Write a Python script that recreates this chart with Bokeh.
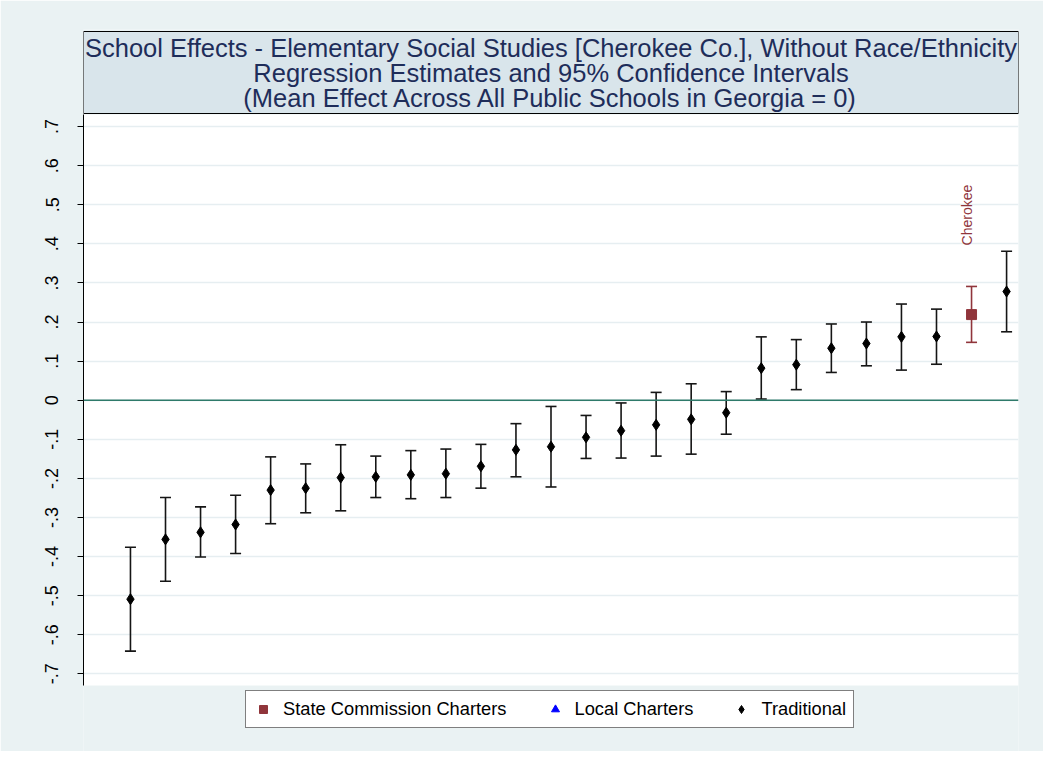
import math
from bokeh.plotting import figure
from bokeh.models import (Range1d, FixedTicker, Whisker, TeeHead, ColumnDataSource,
                          Span, Legend, LegendItem, Label)
from bokeh.core.properties import value
from bokeh.embed import file_html
from bokeh.resources import INLINE

# ---------------- data ----------------
RANK = list(range(1, 27))
ESTIMATE = [-0.509, -0.356, -0.338, -0.318, -0.230, -0.225, -0.198, -0.196, -0.191, -0.188,
            -0.169, -0.127, -0.119, -0.095, -0.078, -0.063, -0.049, -0.032, 0.082, 0.091,
            0.133, 0.145, 0.162, 0.163, 0.219, 0.278]
LOWER = [-0.642, -0.463, -0.401, -0.392, -0.316, -0.288, -0.283, -0.249, -0.252, -0.249,
         -0.225, -0.196, -0.222, -0.149, -0.148, -0.143, -0.138, -0.087, 0.003, 0.027,
         0.071, 0.088, 0.077, 0.092, 0.148, 0.175]
UPPER = [-0.376, -0.249, -0.273, -0.243, -0.145, -0.163, -0.114, -0.143, -0.129, -0.125,
         -0.113, -0.060, -0.016, -0.039, -0.007, 0.020, 0.042, 0.022, 0.162, 0.155,
         0.195, 0.200, 0.246, 0.233, 0.291, 0.381]
SCHOOL_TYPE = ["Traditional"] * 24 + ["State Commission Charters", "Traditional"]
SCHOOL_LABEL = [""] * 24 + ["Cherokee", ""]
LABEL_Y = 0.396

TICK_VALUES = [-0.7, -0.6, -0.5, -0.4, -0.3, -0.2, -0.1, 0.0, 0.1, 0.2, 0.3, 0.4, 0.5, 0.6, 0.7]
TICK_LABELS = ["-.7", "-.6", "-.5", "-.4", "-.3", "-.2", "-.1", "0", ".1", ".2", ".3", ".4", ".5", ".6", ".7"]

LEGEND_LABELS = ["State Commission Charters", "Local Charters", "Traditional"]
TITLE_LINES = ["School Effects - Elementary Social Studies [Cherokee Co.], Without Race/Ethnicity",
               "Regression Estimates and 95% Confidence Intervals",
               "(Mean Effect Across All Public Schools in Georgia = 0)"]

# ---------------- styles / layout ----------------
FONT = "Liberation Sans"
BG = "#EAF2F3"
TITLE_FILL = "#D9E5EB"
TITLE_COLOR = "#1E2D5A"
RED = "#90353B"
BAR_COLOR = "#151515"
ZERO_COLOR = "#2F7A6A"

PX_PER_UNIT = 390.9
ZERO_PX = 399.7          # vertical pixel of the zero line
FRAME_TOP_PX = 29
FRAME_BOTTOM_PX = 751

def yv(px):
    return (ZERO_PX - px) / PX_PER_UNIT

X0, X1 = -0.34, 26.34
Y_PLOT_BOTTOM, Y_PLOT_TOP = yv(685), yv(114)
Y_TITLE_BOTTOM, Y_TITLE_TOP = yv(113), yv(31)

p = figure(frame_width=935, frame_height=FRAME_BOTTOM_PX - FRAME_TOP_PX,
           output_backend="svg", toolbar_location=None,
           x_range=Range1d(X0, X1), y_range=Range1d(yv(FRAME_BOTTOM_PX), yv(FRAME_TOP_PX)),
           x_axis_location=None,
           min_border_left=83, min_border_right=25, min_border_top=FRAME_TOP_PX,
           min_border_bottom=0,
           background_fill_color=BG, border_fill_color=BG, outline_line_color=None)

p.xgrid.visible = False

# white plotting region
p.quad(left=[X0], right=[X1], bottom=[Y_PLOT_BOTTOM], top=[Y_PLOT_TOP],
       fill_color="white", line_color=None, level="image")

yax = p.yaxis[0]
yax.ticker = FixedTicker(ticks=TICK_VALUES)
yax.major_label_overrides = {v: l for v, l in zip(TICK_VALUES, TICK_LABELS)}
yax.bounds = (Y_PLOT_BOTTOM, Y_PLOT_TOP)
yax.major_label_orientation = "vertical"
yax.major_label_text_font = FONT
yax.major_label_text_font_size = "18px"
yax.major_label_text_color = "black"
yax.major_label_standoff = 19
yax.major_tick_out = 6
yax.major_tick_in = 0
yax.minor_tick_out = 0
yax.minor_tick_in = 0
yax.axis_line_color = "black"
yax.major_tick_line_color = "black"

p.ygrid.ticker = FixedTicker(ticks=TICK_VALUES)
p.ygrid.grid_line_color = "#E6EEF1"
p.ygrid.grid_line_width = 1.5

p.add_layout(Span(location=0, dimension="width", line_color=ZERO_COLOR, line_width=1.6))

# error bars
for kind, col in [("Traditional", BAR_COLOR), ("State Commission Charters", RED)]:
    idx = [i for i, t in enumerate(SCHOOL_TYPE) if t == kind]
    src = ColumnDataSource(dict(x=[RANK[i] for i in idx], lo=[LOWER[i] for i in idx],
                                hi=[UPPER[i] for i in idx]))
    w = Whisker(source=src, base="x", lower="lo", upper="hi", dimension="height",
                line_color=col, line_width=1.6,
                upper_head=TeeHead(size=11, line_color=col, line_width=1.6),
                lower_head=TeeHead(size=11, line_color=col, line_width=1.6))
    p.add_layout(w)

def pts(kind):
    idx = [i for i, t in enumerate(SCHOOL_TYPE) if t == kind]
    xs = [RANK[i] for i in idx]
    ys = [ESTIMATE[i] for i in idx]
    if not xs:  # no schools of this type: hidden placeholder so the legend still draws it
        xs, ys = [float("nan")], [float("nan")]
    return dict(x=xs, y=ys)

r_sc = p.scatter(source=ColumnDataSource(pts("State Commission Charters")), x="x", y="y",
                 marker="square", size=10, fill_color=RED, line_color=RED)
r_lc = p.scatter(source=ColumnDataSource(pts("Local Charters")), x="x", y="y",
                 marker="triangle", size=7, fill_color="blue", line_color="blue")
r_tr = p.scatter(source=ColumnDataSource(pts("Traditional")), x="x", y="y",
                 marker="diamond", size=11, fill_color="black", line_color="black")

# school label
lab_idx = [i for i, s in enumerate(SCHOOL_LABEL) if s]
p.text(x=[RANK[i] for i in lab_idx], y=[LABEL_Y] * len(lab_idx),
       text=[SCHOOL_LABEL[i] for i in lab_idx], angle=math.pi / 2, x_offset=-5,
       text_font=value(FONT), text_font_size="14px", text_color=RED,
       text_align="left", text_baseline="alphabetic")

# title box
p.quad(left=[X0], right=[X1], bottom=[Y_TITLE_BOTTOM], top=[Y_TITLE_TOP],
       fill_color=TITLE_FILL, line_color="black", line_width=1)
for line, py in zip(TITLE_LINES, [47, 72, 97]):
    p.add_layout(Label(x=(X0 + X1) / 2, y=yv(py), text=line, x_offset=0,
                       text_align="center", text_baseline="middle",
                       text_font=FONT, text_font_size="25.5px", text_color=TITLE_COLOR))

legend = Legend(items=[LegendItem(label=LEGEND_LABELS[0], renderers=[r_sc]),
                       LegendItem(label=LEGEND_LABELS[1], renderers=[r_lc]),
                       LegendItem(label=LEGEND_LABELS[2], renderers=[r_tr])],
                orientation="horizontal", location=(162, FRAME_BOTTOM_PX - 728),
                label_text_font=FONT, label_text_font_size="18.3px", label_text_color="black",
                glyph_width=20, glyph_height=20, label_standoff=10, spacing=38,
                padding=7, border_line_color="black", border_line_width=1,
                background_fill_color="white", background_fill_alpha=1.0)
p.add_layout(legend)

open("out.html", "w").write(file_html(p, INLINE))
